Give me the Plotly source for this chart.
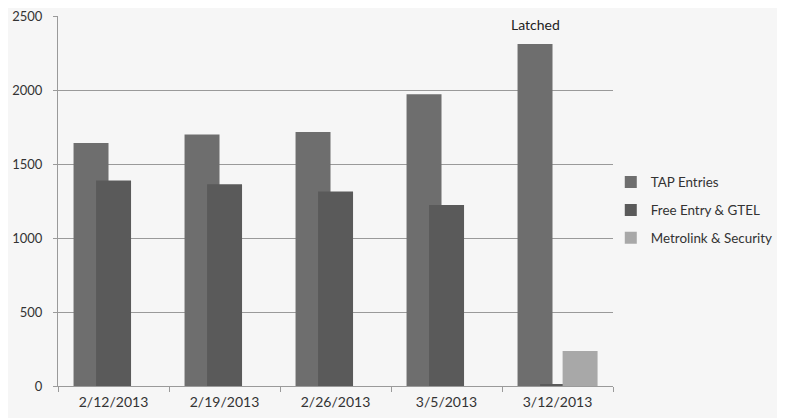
import plotly.graph_objects as go

categories = ["2/12/2013", "2/19/2013", "2/26/2013", "3/5/2013", "3/12/2013"]
tap_entries = [1642, 1700, 1716, 1971, 2310]
free_entry_gtel = [1388, 1364, 1315, 1223, 8]
metrolink_security = [0, 0, 0, 0, 237]
series_names = ["TAP Entries", "Free Entry & GTEL", "Metrolink & Security"]
y_ticks = [0, 500, 1000, 1500, 2000, 2500]

colors = ["#6e6e6e", "#5a5a5a", "#a8a8a8"]
width = 0.315
offsets = [-0.36, -0.157, 0.046]

fig = go.Figure()
for i, (name, vals) in enumerate(zip(series_names, [tap_entries, free_entry_gtel, metrolink_security])):
    fig.add_trace(go.Bar(
        x=categories, y=vals, name=name,
        marker=dict(color=colors[i], line=dict(width=0)),
        width=width, offset=offsets[i],
        legendgroup=name,
    ))

fig.add_annotation(
    x=categories[-1], y=tap_entries[-1], text="Latched",
    showarrow=False, xanchor="center", yanchor="bottom",
    xshift=-22, yshift=9,
    font=dict(family="Lato", size=14, color="#222222"),
)

fig.update_layout(
    width=777, height=410,
    barmode="overlay",
    paper_bgcolor="#f6f6f6", plot_bgcolor="#f6f6f6",
    margin=dict(l=50, r=172, t=8, b=32, autoexpand=False),
    font=dict(family="Lato", size=13, color="#333333"),
    showlegend=True,
    legend=dict(
        x=0.996, y=0.475, xanchor="left", yanchor="middle",
        font=dict(family="Lato", size=13.4, color="#333333"),
        tracegroupgap=7.5, itemwidth=30, bgcolor="rgba(0,0,0,0)",
    ),
    xaxis=dict(
        type="category", showgrid=False, showline=True, linecolor="#9a9a9a", linewidth=1,
        ticks="outside", tickson="boundaries", ticklen=5, tickcolor="#9a9a9a",
        tickfont=dict(family="Lato", size=14, color="#333333"), ticklabelstandoff=3,
        range=[-0.5, 4.5], automargin=False,
    ),
    yaxis=dict(
        range=[0, 2500], tickvals=y_ticks, showgrid=True, gridcolor="#9a9a9a", gridwidth=1,
        showline=True, linecolor="#9a9a9a", linewidth=1, zeroline=False,
        ticks="outside", ticklen=4, tickcolor="#9a9a9a", ticklabelstandoff=8,
        ticklabeloverflow="allow", automargin=False,
        tickfont=dict(family="Lato", size=13, color="#333333"),
    ),
)

fig.write_html("out.html")
